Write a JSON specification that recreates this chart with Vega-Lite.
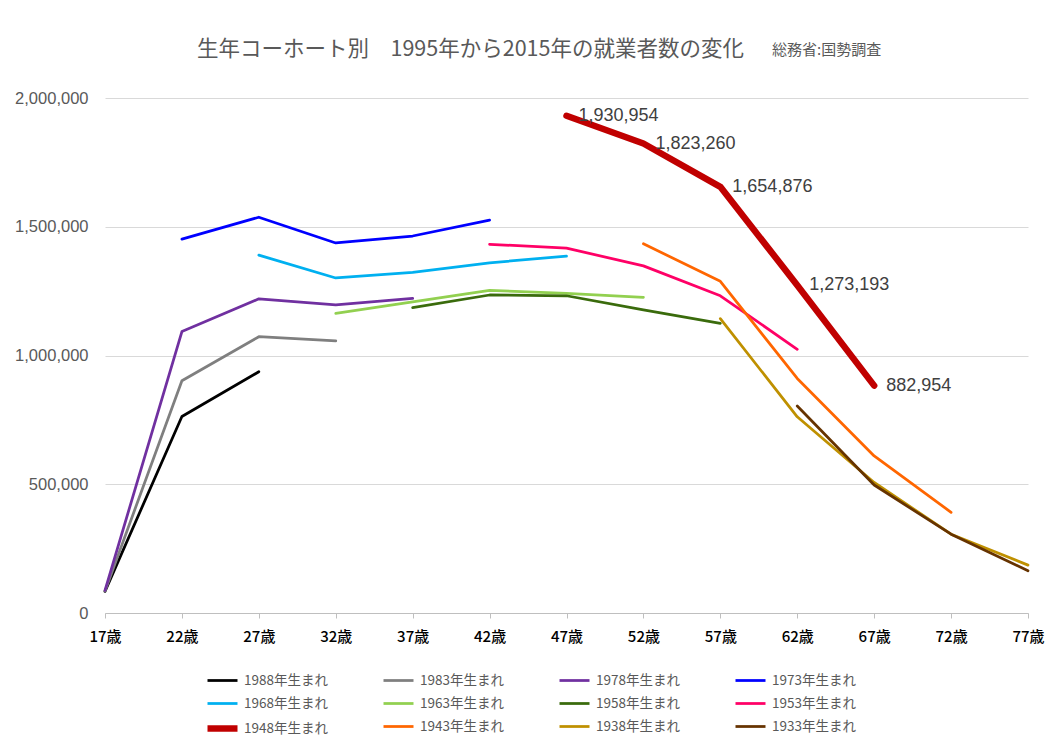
{
  "$schema": "https://vega.github.io/schema/vega-lite/v6.json",
  "width": 923,
  "height": 515,
  "autosize": {"type": "none"},
  "padding": {"left": 105, "top": 98, "right": 30, "bottom": 137},
  "background": "white",
  "config": {"view": {"stroke": null}, "font": "Noto Sans CJK JP"},
  "title": {
    "text": "生年コーホート別　1995年から2015年の就業者数の変化",
    "subtitle": "総務省:国勢調査",
    "anchor": "start",
    "frame": "group",
    "dx": 92,
    "offset": 30,
    "fontSize": 21.5,
    "fontWeight": "normal",
    "color": "#595959",
    "font": "Noto Sans CJK JP",
    "subtitleFontSize": 15,
    "subtitleColor": "#595959",
    "subtitleFont": "Noto Sans CJK JP",
    "subtitlePadding": -17,
    "encode": {"subtitle": {"update": {"dx": {"value": 667}}}}
  },
  "data": {
    "values": [
      {"cohort": "1988年生まれ", "age": "17歳", "value": 84000},
      {"cohort": "1988年生まれ", "age": "22歳", "value": 763000},
      {"cohort": "1988年生まれ", "age": "27歳", "value": 937000},
      {"cohort": "1983年生まれ", "age": "17歳", "value": 85000},
      {"cohort": "1983年生まれ", "age": "22歳", "value": 902000},
      {"cohort": "1983年生まれ", "age": "27歳", "value": 1073000},
      {"cohort": "1983年生まれ", "age": "32歳", "value": 1057000},
      {"cohort": "1978年生まれ", "age": "17歳", "value": 88000},
      {"cohort": "1978年生まれ", "age": "22歳", "value": 1093000},
      {"cohort": "1978年生まれ", "age": "27歳", "value": 1220000},
      {"cohort": "1978年生まれ", "age": "32歳", "value": 1197000},
      {"cohort": "1978年生まれ", "age": "37歳", "value": 1222000},
      {"cohort": "1973年生まれ", "age": "22歳", "value": 1452000},
      {"cohort": "1973年生まれ", "age": "27歳", "value": 1537000},
      {"cohort": "1973年生まれ", "age": "32歳", "value": 1437000},
      {"cohort": "1973年生まれ", "age": "37歳", "value": 1464000},
      {"cohort": "1973年生まれ", "age": "42歳", "value": 1526000},
      {"cohort": "1968年生まれ", "age": "27歳", "value": 1390000},
      {"cohort": "1968年生まれ", "age": "32歳", "value": 1301000},
      {"cohort": "1968年生まれ", "age": "37歳", "value": 1323000},
      {"cohort": "1968年生まれ", "age": "42歳", "value": 1360000},
      {"cohort": "1968年生まれ", "age": "47歳", "value": 1386000},
      {"cohort": "1963年生まれ", "age": "32歳", "value": 1164000},
      {"cohort": "1963年生まれ", "age": "37歳", "value": 1208000},
      {"cohort": "1963年生まれ", "age": "42歳", "value": 1253000},
      {"cohort": "1963年生まれ", "age": "47歳", "value": 1241000},
      {"cohort": "1963年生まれ", "age": "52歳", "value": 1226000},
      {"cohort": "1958年生まれ", "age": "37歳", "value": 1186000},
      {"cohort": "1958年生まれ", "age": "42歳", "value": 1235000},
      {"cohort": "1958年生まれ", "age": "47歳", "value": 1232000},
      {"cohort": "1958年生まれ", "age": "52歳", "value": 1177000},
      {"cohort": "1958年生まれ", "age": "57歳", "value": 1125000},
      {"cohort": "1953年生まれ", "age": "42歳", "value": 1432000},
      {"cohort": "1953年生まれ", "age": "47歳", "value": 1417000},
      {"cohort": "1953年生まれ", "age": "52歳", "value": 1348000},
      {"cohort": "1953年生まれ", "age": "57歳", "value": 1232000},
      {"cohort": "1953年生まれ", "age": "62歳", "value": 1024000},
      {"cohort": "1943年生まれ", "age": "52歳", "value": 1434000},
      {"cohort": "1943年生まれ", "age": "57歳", "value": 1288000},
      {"cohort": "1943年生まれ", "age": "62歳", "value": 911000},
      {"cohort": "1943年生まれ", "age": "67歳", "value": 610000},
      {"cohort": "1943年生まれ", "age": "72歳", "value": 391000},
      {"cohort": "1938年生まれ", "age": "57歳", "value": 1143000},
      {"cohort": "1938年生まれ", "age": "62歳", "value": 762000},
      {"cohort": "1938年生まれ", "age": "67歳", "value": 507000},
      {"cohort": "1938年生まれ", "age": "72歳", "value": 306000},
      {"cohort": "1938年生まれ", "age": "77歳", "value": 186000},
      {"cohort": "1933年生まれ", "age": "62歳", "value": 804000},
      {"cohort": "1933年生まれ", "age": "67歳", "value": 497000},
      {"cohort": "1933年生まれ", "age": "72歳", "value": 306000},
      {"cohort": "1933年生まれ", "age": "77歳", "value": 164000},
      {"cohort": "1948年生まれ", "age": "47歳", "value": 1930954},
      {"cohort": "1948年生まれ", "age": "52歳", "value": 1823260},
      {"cohort": "1948年生まれ", "age": "57歳", "value": 1654876},
      {"cohort": "1948年生まれ", "age": "62歳", "value": 1273193},
      {"cohort": "1948年生まれ", "age": "67歳", "value": 882954}
    ]
  },
  "encoding": {
    "x": {
      "field": "age",
      "type": "ordinal",
      "sort": ["17歳", "22歳", "27歳", "32歳", "37歳", "42歳", "47歳", "52歳", "57歳", "62歳", "67歳", "72歳", "77歳"],
      "scale": {"type": "point", "padding": 0},
      "axis": {
        "title": null,
        "labelAngle": 0,
        "labelColor": "#000000",
        "labelFontSize": 15,
        "labelFontWeight": 500,
        "labelFont": "Noto Sans CJK JP",
        "labelPadding": 11,
        "domainColor": "#bfbfbf",
        "domainWidth": 1.2,
        "tickColor": "#bfbfbf",
        "tickSize": 5,
        "grid": false
      }
    },
    "y": {
      "field": "value",
      "type": "quantitative",
      "scale": {"domain": [0, 2000000], "nice": false},
      "axis": {
        "title": null,
        "values": [0, 500000, 1000000, 1500000, 2000000],
        "format": ",d",
        "grid": true,
        "gridColor": "#d9d9d9",
        "gridWidth": 1.2,
        "domain": false,
        "ticks": false,
        "labelColor": "#595959",
        "labelFontSize": 16.5,
        "labelFont": "Liberation Sans",
        "labelPadding": 17
      }
    }
  },
  "layer": [
    {
      "mark": {"type": "line", "strokeCap": "round", "strokeJoin": "round"},
      "encoding": {
        "color": {
          "field": "cohort",
          "type": "nominal",
          "scale": {
            "domain": ["1988年生まれ", "1983年生まれ", "1978年生まれ", "1973年生まれ", "1968年生まれ", "1963年生まれ", "1958年生まれ", "1953年生まれ", "1948年生まれ", "1943年生まれ", "1938年生まれ", "1933年生まれ"],
            "range": ["#000000", "#7f7f7f", "#7030a0", "#0000ff", "#00b0f0", "#92d050", "#3a6b0c", "#ff0066", "#c00000", "#ff6600", "#bf9000", "#663300"]
          },
          "legend": {
            "title": null,
            "orient": "none",
            "legendX": 99,
            "legendY": 566,
            "direction": "horizontal",
            "columns": 4,
            "columnPadding": 50,
            "rowPadding": -9,
            "symbolType": "stroke",
            "symbolSize": 900,
            "labelFontSize": 13.5,
            "labelColor": "#595959",
            "labelFont": "Noto Sans CJK JP",
            "labelOffset": 3,
            "labelLimit": 200
          }
        },
        "strokeWidth": {
          "field": "cohort",
          "type": "nominal",
          "scale": {
            "type": "ordinal",
            "domain": ["1988年生まれ", "1983年生まれ", "1978年生まれ", "1973年生まれ", "1968年生まれ", "1963年生まれ", "1958年生まれ", "1953年生まれ", "1948年生まれ", "1943年生まれ", "1938年生まれ", "1933年生まれ"],
            "range": [2.75, 2.75, 2.75, 2.75, 2.75, 2.75, 2.75, 2.75, 6.5, 2.75, 2.75, 2.75]
          },
          "legend": {
            "title": null,
            "orient": "none",
            "legendX": 99,
            "legendY": 566,
            "direction": "horizontal",
            "columns": 4,
            "columnPadding": 50,
            "rowPadding": -9,
            "symbolType": "stroke",
            "symbolSize": 900,
            "labelFontSize": 13.5,
            "labelColor": "#595959",
            "labelFont": "Noto Sans CJK JP",
            "labelOffset": 3,
            "labelLimit": 200
          }
        }
      }
    },
    {
      "transform": [{"filter": "datum.cohort === '1948年生まれ'"}],
      "mark": {"type": "text", "align": "left", "baseline": "middle", "dx": 12, "fontSize": 18, "font": "Liberation Sans", "color": "#404040"},
      "encoding": {"text": {"field": "value", "type": "quantitative", "format": ",d"}}
    }
  ]
}
